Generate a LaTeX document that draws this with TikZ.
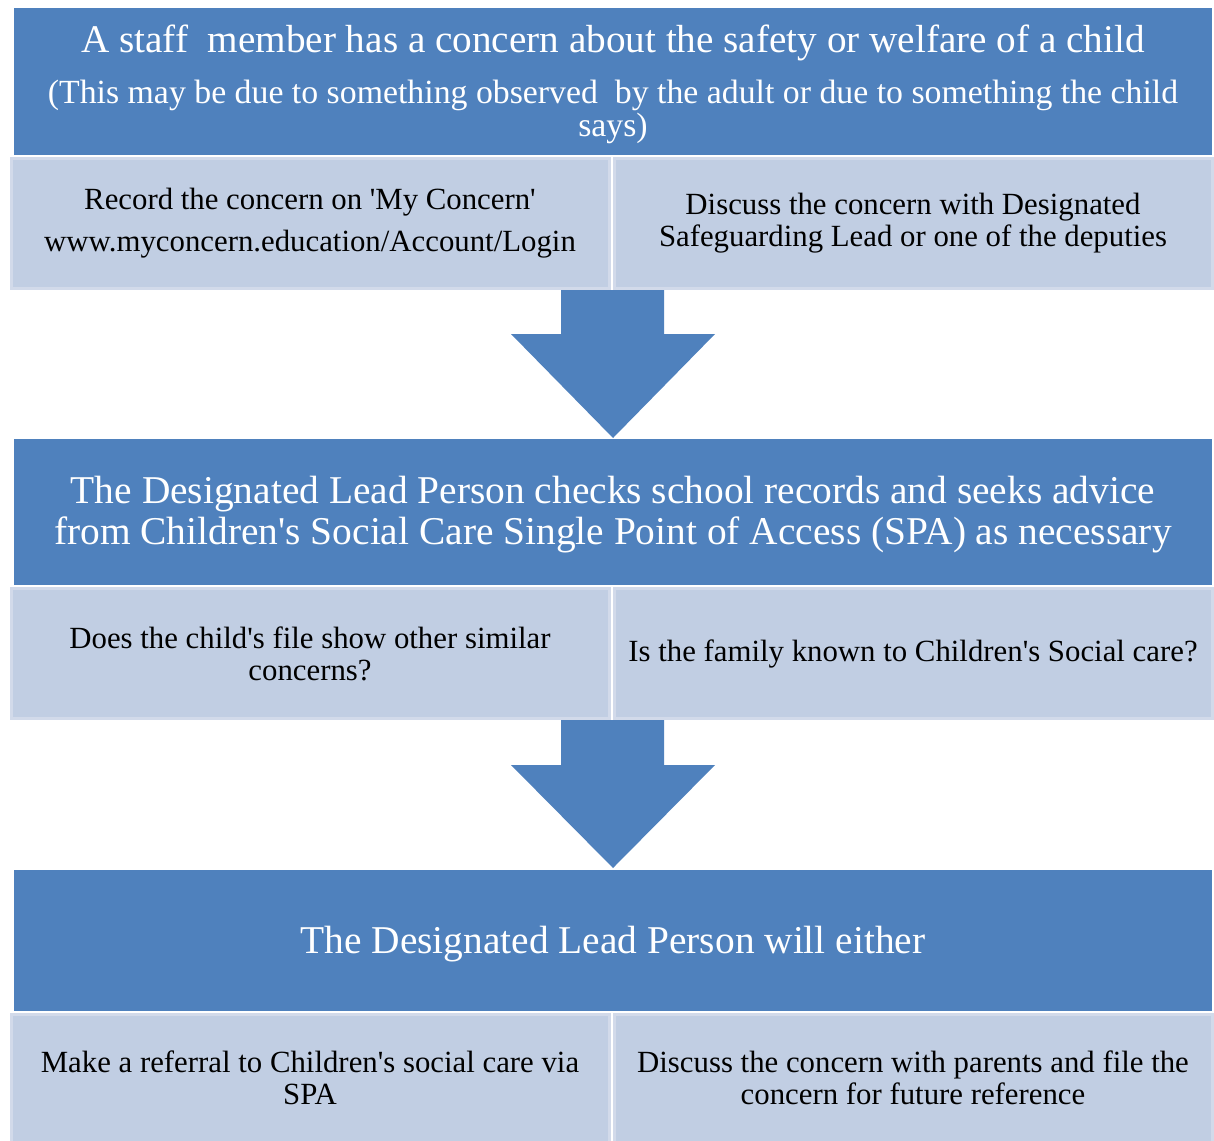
\documentclass[tikz,border=0pt]{standalone}
\usepackage{fontspec}
\setmainfont{Liberation Serif}
\usetikzlibrary{positioning}
\definecolor{headblue}{HTML}{4F81BD}
\definecolor{cellblue}{HTML}{C1CEE3}
\definecolor{cellrim}{HTML}{D2DAEA}
\newcommand{\q}{\textquotesingle}
\tikzset{
  headbox/.style={text=white, inner sep=0pt, align=flush center, text width=595pt},
  cellbox/.style={fill=cellblue, draw=cellrim, line width=1.5pt, minimum width=299pt,
    minimum height=65pt, inner sep=0pt, align=flush center, text width=292pt,
    font=\fontsize{15.4}{16}\selectfont}
}
\begin{document}
\begin{tikzpicture}[x=0.5pt, y=-0.5pt]
  \useasboundingbox (0,0) rectangle (1214,1140);

  % First step
  \fill[headblue] (14,8) rectangle (1212,155);
  \node[headbox] (concern) at (613,84.5)
    {\fontsize{19.6}{22}\selectfont A staff\ \ member has a concern about the safety or welfare of a child\\[8pt]
     \fontsize{16.9}{17.5}\selectfont (This may be due to something observed\ \ by the adult or due to something the child\\ says)};
  \node[cellbox] (record) at (310,223.5)
    {Record the concern on \q My Concern\q\\[5pt] www.myconcern.education/Account/Login};
  \node[cellbox] (discuss) at (913,223.5)
    {Discuss the concern with Designated\\ Safeguarding Lead or one of the deputies};

  % Arrow down to the lead person
  \fill[headblue] (561,290) -- (664,290) -- (664,334) -- (715,334) -- (613,438)
    -- (511,334) -- (561,334) -- cycle;

  % Second step
  \fill[headblue] (14,439) rectangle (1212,585);
  \node[headbox, font=\fontsize{19.7}{20.3}\selectfont] (checks) at (613,514.5)
    {The Designated Lead Person checks school records and seeks advice\\
     from Children\q s Social Care Single Point of Access (SPA) as necessary};
  \node[cellbox] (file) at (310,653.5)
    {Does the child\q s file show other similar\\ concerns?};
  \node[cellbox] (family) at (913,653.5)
    {Is the family known to Children\q s Social care?};

  % Arrow down to the outcome
  \fill[headblue] (561,720) -- (664,720) -- (664,765) -- (715,765) -- (613,868)
    -- (511,765) -- (561,765) -- cycle;

  % Third step
  \fill[headblue] (14,870) rectangle (1212,1011);
  \node[headbox, font=\fontsize{19.7}{22}\selectfont] (either) at (613,944)
    {The Designated Lead Person will either};
  \node[cellbox, minimum height=64pt] (referral) at (310,1078)
    {Make a referral to Children\q s social care via\\ SPA};
  \node[cellbox, minimum height=64pt] (parents) at (913,1078)
    {Discuss the concern with parents and file the\\ concern for future reference};
\end{tikzpicture}
\end{document}
